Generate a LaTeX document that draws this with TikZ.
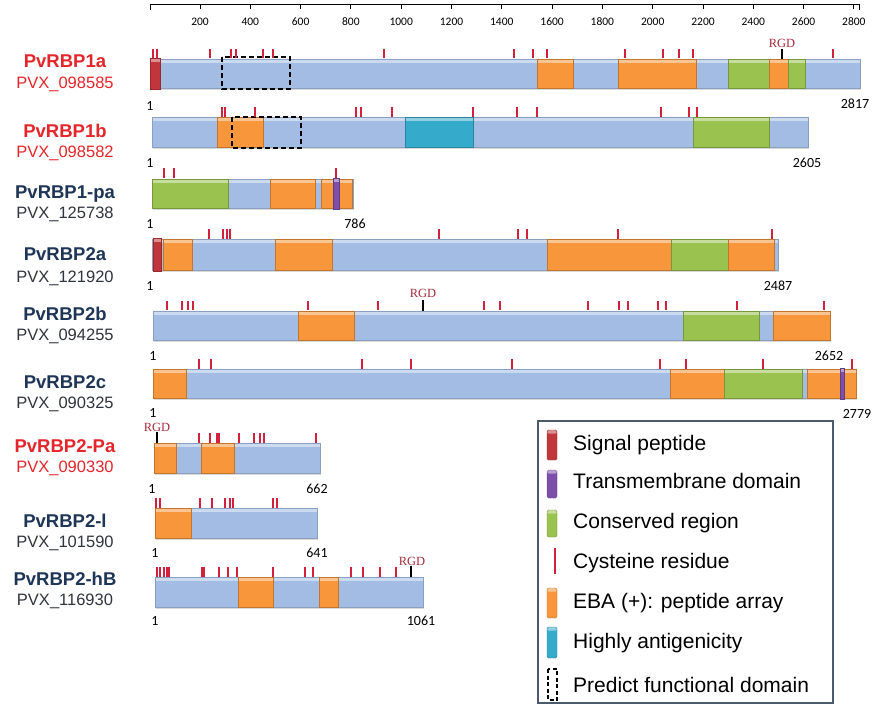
\documentclass[tikz,border=0pt]{standalone}
\usepackage{fontspec}
\setmainfont{Liberation Sans}
\newfontfamily\numfont{Carlito}
\newfontfamily\rgdfont{Liberation Serif}
\usetikzlibrary{shadows}
\definecolor{barblue}{HTML}{A3BCE3}
\definecolor{ebaorange}{HTML}{F7963A}
\definecolor{consgreen}{HTML}{9AC24E}
\definecolor{sigred}{HTML}{C0363C}
\definecolor{antcyan}{HTML}{35AACB}
\definecolor{tmpurple}{HTML}{7B4FAA}
\definecolor{cysred}{HTML}{D3203C}
\definecolor{namered}{HTML}{E3262B}
\definecolor{namenavy}{HTML}{1E3556}
\definecolor{idgray}{HTML}{30343C}
\definecolor{rgdred}{HTML}{A52A3A}
\definecolor{legframe}{HTML}{4C5B6B}

\begin{document}
\begin{tikzpicture}[x=1pt,y=-1pt,
  every node/.style={inner sep=0pt},
  blk/.style={draw=#1!78!black,line width=0.4pt,fill=#1,
    path picture={\fill[white,opacity=0.45] (path picture bounding box.north west) rectangle ([yshift=-3.5pt]path picture bounding box.north east);}},
  bar/.style={blk=barblue,draw=barblue!85!black,drop shadow={shadow xshift=1.2pt,shadow yshift=-1.5pt,opacity=0.3}},
  eba/.style={blk=ebaorange},
  cons/.style={blk=consgreen},
  sig/.style={blk=sigred},
  hag/.style={blk=antcyan},
  tm/.style={blk=tmpurple,line width=0.3pt},
  pfd/.style={draw=black,line width=1.7pt,dash pattern=on 5pt off 3pt},
  cys/.style={cysred,line width=1.3pt},
  rgdt/.style={black,line width=1.1pt},
  rgd/.style={font=\rgdfont\fontsize{12.5}{13}\selectfont,text=rgdred,anchor=base},
  posl/.style={font=\numfont\fontsize{14}{15}\selectfont,anchor=base},
  tickl/.style={font=\numfont\fontsize{11.5}{12}\selectfont,anchor=base},
  namer/.style={font=\bfseries\fontsize{18.5}{20}\selectfont,text=namered,anchor=base},
  namen/.style={namer,text=namenavy},
  idr/.style={font=\fontsize{16.5}{18}\selectfont,text=namered,anchor=base},
  idn/.style={idr,text=idgray},
  legt/.style={font=\fontsize{21}{23}\selectfont,anchor=base west},
  legi/.style={rounded corners=1.5pt}]
\useasboundingbox (0,0) rectangle (889,710);

% scale
\draw[line width=0.9pt] (150,4) -- (859,4);
\draw[line width=0.9pt] (150.5,4) -- (150.5,10) (859,4) -- (859,10);
\foreach \k in {200,400,...,2800} {
  \draw[line width=0.9pt] (149.7+0.2515*\k,4) -- ++(0,5);
  \node[tickl] (t\k) at (149.7+0.2515*\k,25) {\k};
}

% names
\node[namer] (n1a) at (65,67) {PvRBP1a};
\node[idr] (i1a) at (65,88) {PVX\_098585};
\node[namer] (n1b) at (65,137) {PvRBP1b};
\node[idr] (i1b) at (65,157) {PVX\_098582};
\node[namen] (n1pa) at (65,198) {PvRBP1-pa};
\node[idn] (i1pa) at (65,218) {PVX\_125738};
\node[namen] (n2a) at (65,260) {PvRBP2a};
\node[idn] (i2a) at (65,282) {PVX\_121920};
\node[namen] (n2b) at (65,320) {PvRBP2b};
\node[idn] (i2b) at (65,340) {PVX\_094255};
\node[namen] (n2c) at (65,388) {PvRBP2c};
\node[idn] (i2c) at (65,408) {PVX\_090325};
\node[namer] (n2pa) at (65,452) {PvRBP2-Pa};
\node[idr] (i2pa) at (65,472) {PVX\_090330};
\node[namen] (n2l) at (65,527) {PvRBP2-l};
\node[idn] (i2l) at (65,547) {PVX\_101590};
\node[namen] (n2hb) at (65,585) {PvRBP2-hB};
\node[idn] (i2hb) at (65,605) {PVX\_116930};

% PvRBP1a
\draw[bar] (150,59) rectangle (860,88);
\draw[eba] (537,59) rectangle (573,88);
\draw[eba] (618,59) rectangle (696,88);
\draw[cons] (728,59) rectangle (769,88);
\draw[eba] (769,59) rectangle (788,88);
\draw[cons] (788,59) rectangle (805,88);
\draw[sig] (150,58) rectangle (160,89);
\draw[pfd] (222,57) rectangle (290,89);
\foreach \x in {153,157,210,231,236,263,273,384,514,533,547,625,663,679,693,833}
  \draw[cys] (\x,49) -- (\x,58);
\draw[rgdt] (782,49) -- (782,59);
\node[rgd] (g1a) at (782,47) {RGD};
\node[posl] (s1a) at (150,110) {1};
\node[posl] (e1a) at (855,108) {2817};

% PvRBP1b
\draw[bar] (152,117) rectangle (808,147);
\draw[eba] (217,117) rectangle (263,147);
\draw[hag] (405,117) rectangle (473,147);
\draw[cons] (693,117) rectangle (769,147);
\draw[pfd] (232,117) rectangle (301,148);
\foreach \x in {222,225,255,356,361,392,473,517,537,661,689,697}
  \draw[cys] (\x,107) -- (\x,117);
\node[posl] (s1b) at (150,167) {1};
\node[posl] (e1b) at (807,167) {2605};

% PvRBP1-pa
\draw[bar] (152,179) rectangle (353,208);
\draw[cons] (152,179) rectangle (228,208);
\draw[eba] (270,179) rectangle (315,208);
\draw[eba] (321,179) rectangle (352,208);
\draw[tm] (333,178) rectangle (339,209);
\foreach \x in {164,174,336}
  \draw[cys] (\x,168) -- (\x,178);
\node[posl] (s1pa) at (150,228) {1};
\node[posl] (e1pa) at (355,228) {786};

% PvRBP2a
\draw[bar] (152,239) rectangle (778,270);
\draw[sig] (153,238) rectangle (161,271);
\draw[eba] (163,239) rectangle (192,270);
\draw[eba] (275,239) rectangle (332,270);
\draw[eba] (547,239) rectangle (671,270);
\draw[cons] (671,239) rectangle (728,270);
\draw[eba] (728,239) rectangle (774,270);
\foreach \x in {209,223,227,230,439,518,527,618,772}
  \draw[cys] (\x,229) -- (\x,239);
\node[posl] (s2a) at (150,290) {1};
\node[posl] (e2a) at (778,290) {2487};

% PvRBP2b
\draw[bar] (153,311) rectangle (830,340);
\draw[eba] (298,311) rectangle (354,340);
\draw[cons] (683,311) rectangle (759,340);
\draw[eba] (773,311) rectangle (830,340);
\foreach \x in {167,182,188,193,308,378,484,500,588,619,628,658,666,737,824}
  \draw[cys] (\x,301) -- (\x,310);
\draw[rgdt] (423,300) -- (423,311);
\node[rgd] (g2b) at (423,297) {RGD};
\node[posl] (s2b) at (153,360) {1};
\node[posl] (e2b) at (829,360) {2652};

% PvRBP2c
\draw[bar] (153,369) rectangle (856,398);
\draw[eba] (153,369) rectangle (186,398);
\draw[eba] (670,369) rectangle (724,398);
\draw[cons] (724,369) rectangle (802,398);
\draw[eba] (807,369) rectangle (856,398);
\draw[tm] (840,368) rectangle (844,399);
\foreach \x in {199,211,362,411,512,660,686,763,852}
  \draw[cys] (\x,359) -- (\x,369);
\node[posl] (s2c) at (153,417) {1};
\node[posl] (e2c) at (857,418) {2779};

% PvRBP2-Pa
\draw[bar] (154,443) rectangle (320,473);
\draw[eba] (154,443) rectangle (176,473);
\draw[eba] (201,443) rectangle (234,473);
\foreach \x in {199,210,217,219,239,254,260,264,316}
  \draw[cys] (\x,433) -- (\x,443);
\draw[rgdt] (157,432) -- (157,443);
\node[rgd] (g2pa) at (157,431) {RGD};
\node[posl] (s2pa) at (152,493) {1};
\node[posl] (e2pa) at (317,493) {662};

% PvRBP2-l
\draw[bar] (155,508) rectangle (317,538);
\draw[eba] (155,508) rectangle (191,538);
\foreach \x in {156,160,200,212,225,230,233,273,277}
  \draw[cys] (\x,498) -- (\x,508);
\node[posl] (s2l) at (155,557) {1};
\node[posl] (e2l) at (317,557) {641};

% PvRBP2-hB
\draw[bar] (155,577) rectangle (423,607);
\draw[eba] (238,577) rectangle (273,607);
\draw[eba] (319,577) rectangle (338,607);
\foreach \x in {157,160,164,167,169,202,204,219,228,237,273,305,313,351,363,380,396}
  \draw[cys] (\x,567) -- (\x,577);
\draw[rgdt] (411,566) -- (411,577);
\node[rgd] (g2hb) at (412,565) {RGD};
\node[posl] (s2hb) at (155,625) {1};
\node[posl] (e2hb) at (421,625) {1061};

% legend
\draw[legframe,line width=1.2pt,fill=white] (538,421) rectangle (833,703);
\draw[sig,legi] (547,430) rectangle (557,460);
\node[legt] (l1) at (573,450) {Signal peptide};
\draw[tm,legi] (547,470) rectangle (557,498);
\node[legt] (l2) at (573,488) {Transmembrane domain};
\draw[cons,legi] (547,510) rectangle (557,537);
\node[legt] (l3) at (573,528) {Conserved region};
\draw[cys] (555,548) -- (555,574);
\node[legt] (l4) at (573,568) {Cysteine residue};
\draw[eba,legi] (547,588) rectangle (557,618);
\node[legt] (l5) at (573,608) {EBA (+): peptide array};
\draw[hag,legi] (547,627) rectangle (557,658);
\node[legt] (l6) at (573,648) {Highly antigenicity};
\draw[pfd,line width=1.3pt,dash pattern=on 4pt off 2.5pt] (548,669) rectangle (557,700);
\node[legt] (l7) at (573,692) {Predict functional domain};
\end{tikzpicture}
\end{document}
